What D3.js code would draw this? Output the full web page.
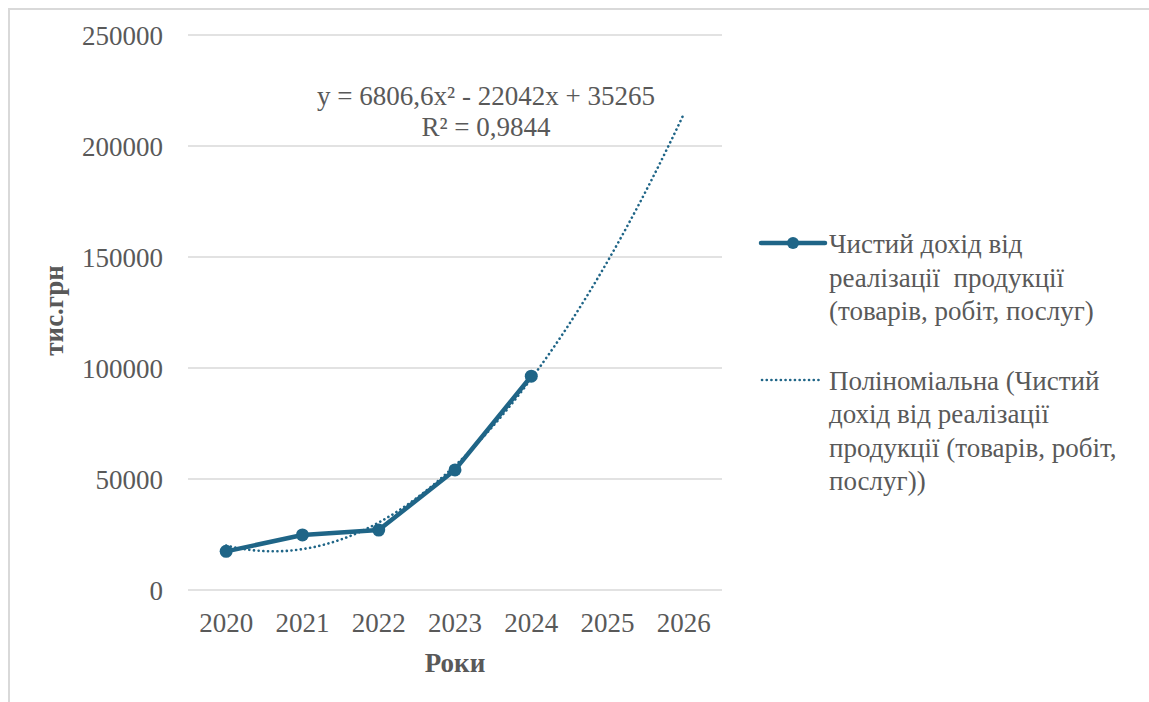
<!DOCTYPE html>
<html>
<head>
<meta charset="utf-8">
<script src="https://cdn.jsdelivr.net/npm/d3@7"></script>
<style>
  html, body { margin: 0; padding: 0; background: #fff; }
  svg { display: block; }
  svg text { font-family: "Liberation Serif", "Times New Roman", "DejaVu Serif", serif !important; fill: #595959; white-space: pre; }
</style>
</head>
<body>
<svg id="chart" width="1149" height="702"></svg>
<script>
// Chart data
const years = ["2020", "2021", "2022", "2023", "2024", "2025", "2026"];
const incomeYears = ["2020", "2021", "2022", "2023", "2024"];
const incomeValues = [17400, 24800, 27000, 54100, 96300];
const yTicks = [0, 50000, 100000, 150000, 200000, 250000];
// Polynomial trend y = a*x^2 + b*x + c, x = 1..7
const trendCoef = [6806.6, -22042, 35265];
const trendLabel = ["y = 6806,6x² - 22042x + 35265", "R² = 0,9844"];
const seriesName = ["Чистий дохід від", "реалізації  продукції", "(товарів, робіт, послуг)"];
const trendName = ["Поліноміальна (Чистий", "дохід від реалізації", "продукції (товарів, робіт,", "послуг))"];
const yTitle = "тис.грн";
const xTitle = "Роки";

const color = "#1f6587";
const fs = 27;
const svg = d3.select("#chart");

// Outer frame (top and left edges visible)
svg.append("rect")
  .attr("x", 9).attr("y", 9).attr("width", 1160).attr("height", 720)
  .attr("fill", "none").attr("stroke", "#d9d9d9").attr("stroke-width", 2);

const plot = { left: 188, right: 722, top: 35, bottom: 590 };

const x = d3.scaleBand().domain(years).range([plot.left, plot.right]);
const y = d3.scaleLinear().domain([0, 250000]).range([plot.bottom, plot.top]);
const cx = d => x(d) + x.bandwidth() / 2;

// Gridlines
svg.append("g").selectAll("line").data(yTicks).join("line")
  .attr("x1", plot.left).attr("x2", plot.right)
  .attr("y1", d => y(d)).attr("y2", d => y(d))
  .attr("stroke", "#d9d9d9").attr("stroke-width", 1.5);

// Y axis labels
const yAxis = svg.append("g").attr("transform", `translate(${plot.left},0)`)
  .call(d3.axisLeft(y).tickValues(yTicks).tickSize(0).tickPadding(25).tickFormat(d3.format("d")));
yAxis.select(".domain").remove();
yAxis.attr("font-size", fs);
yAxis.selectAll("text").attr("fill", "#595959").attr("dy", "0.34em");

// X axis labels
const xAxis = svg.append("g").attr("transform", `translate(0,${plot.bottom})`)
  .call(d3.axisBottom(x).tickSize(0).tickPadding(23));
xAxis.select(".domain").remove();
xAxis.attr("font-size", fs);
xAxis.selectAll("text").attr("fill", "#595959");

// Axis titles
svg.append("text")
  .attr("transform", `translate(63,${(plot.top + plot.bottom) / 2 - 2}) rotate(-90)`)
  .attr("text-anchor", "middle").attr("font-size", fs).attr("font-weight", "bold")
  .text(yTitle);
svg.append("text")
  .attr("x", (plot.left + plot.right) / 2).attr("y", 672)
  .attr("text-anchor", "middle").attr("font-size", fs).attr("font-weight", "bold")
  .text(xTitle);

// Polynomial trend line
const trendFn = t => trendCoef[0] * t * t + trendCoef[1] * t + trendCoef[2];
const trendPts = d3.range(1, 7.001, 0.05).map(t => {
  const i = Math.floor(t - 1 + 1e-9);
  const frac = t - 1 - i;
  const px = i >= years.length - 1 ? cx(years[years.length - 1])
    : cx(years[i]) + frac * (cx(years[i + 1]) - cx(years[i]));
  return [px, y(trendFn(t))];
});
svg.append("path")
  .attr("d", d3.line().curve(d3.curveLinear)(trendPts))
  .attr("fill", "none").attr("stroke", color).attr("stroke-width", 2.6)
  .attr("stroke-dasharray", "0.1 4.6").attr("stroke-linecap", "round");

// Income line and markers
const incData = incomeYears.map((yr, i) => ({ yr, v: incomeValues[i] }));
svg.append("path")
  .datum(incData)
  .attr("d", d3.line().x(d => cx(d.yr)).y(d => y(d.v)))
  .attr("fill", "none").attr("stroke", color).attr("stroke-width", 4.5)
  .attr("stroke-linejoin", "round");
svg.append("g").selectAll("circle").data(incData).join("circle")
  .attr("cx", d => cx(d.yr)).attr("cy", d => y(d.v)).attr("r", 6.5)
  .attr("fill", color);

// Trend equation
const eq = svg.append("text").attr("text-anchor", "middle").attr("font-size", fs);
trendLabel.forEach((t, i) => {
  eq.append("tspan").attr("x", 486).attr("y", 105 + i * 31).text(t);
});

// Legend
const lg = svg.append("g");
lg.append("line").attr("x1", 761).attr("x2", 825).attr("y1", 243).attr("y2", 243)
  .attr("stroke", color).attr("stroke-width", 4.5).attr("stroke-linecap", "round");
lg.append("circle").attr("cx", 793).attr("cy", 243).attr("r", 6).attr("fill", color);
const t1 = lg.append("text").attr("font-size", fs);
seriesName.forEach((s, i) => {
  t1.append("tspan").attr("x", 829).attr("y", 253 + i * 33.5).text(s);
});
lg.append("line").attr("x1", 762).attr("x2", 819).attr("y1", 380).attr("y2", 380)
  .attr("stroke", color).attr("stroke-width", 2.6)
  .attr("stroke-dasharray", "0.1 4.6").attr("stroke-linecap", "round");
const t2 = lg.append("text").attr("font-size", fs);
trendName.forEach((s, i) => {
  t2.append("tspan").attr("x", 829).attr("y", 390 + i * 33.3).text(s);
});
</script>
</body>
</html>
